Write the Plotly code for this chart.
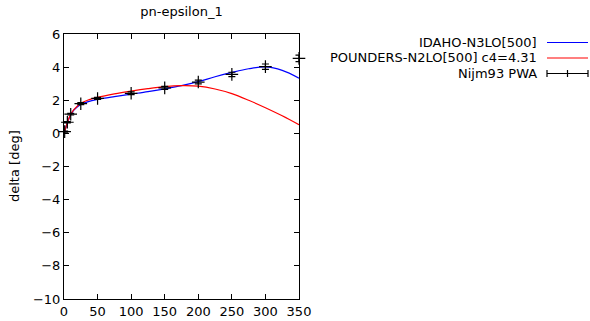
import plotly.graph_objects as go

# Nijm93 PWA data
pwa_e = [1, 5, 10, 25, 50, 100, 150, 200, 250, 300, 350]
pwa_delta = [0.105, 0.672, 1.159, 1.793, 2.109, 2.420, 2.750, 3.10, 3.56, 4.03, 4.53]
pwa_err = [0.03, 0.04, 0.05, 0.06, 0.06, 0.08, 0.09, 0.11, 0.13, 0.16, 0.2]

# model curves
curve_e = [0, 1, 2, 5, 10, 15, 25, 35, 50, 75, 100, 125, 150, 175, 200, 225, 250, 275, 300, 325, 350]
idaho = [0.0, 0.12, 0.25, 0.64, 1.12, 1.42, 1.74, 1.90, 2.05, 2.22, 2.37, 2.52, 2.69, 2.88, 3.12, 3.42, 3.68, 3.90, 4.01, 3.80, 3.33]
pounders = [0.0, 0.12, 0.25, 0.65, 1.15, 1.45, 1.82, 2.00, 2.17, 2.38, 2.55, 2.70, 2.82, 2.88, 2.85, 2.68, 2.40, 2.00, 1.55, 1.06, 0.52]

names = ["IDAHO-N3LO[500]", "POUNDERS-N2LO[500] c4=4.31", "Nijm93 PWA"]

W, H = 590, 321
L, R, T, B = 64, 299, 34, 299
FONT = "DejaVu Sans"
FS = 13

fig = go.Figure()
fig.add_trace(go.Scatter(x=curve_e, y=idaho, mode="lines", line=dict(color="#0000ff", width=1.2, shape="spline"), name=names[0], showlegend=False))
fig.add_trace(go.Scatter(x=curve_e, y=pounders, mode="lines", line=dict(color="#ff0000", width=1.2, shape="spline"), name=names[1], showlegend=False))
fig.add_trace(go.Scatter(x=pwa_e, y=pwa_delta, mode="markers",
                         marker=dict(symbol="cross-thin", size=9, line=dict(color="black", width=1.2)),
                         error_y=dict(type="data", array=pwa_err, color="black", thickness=1.2, width=3.5),
                         name=names[2], showlegend=False, cliponaxis=False))

axis_common = dict(showline=True, linecolor="black", linewidth=1, mirror="ticks", ticks="inside",
                   ticklen=5, tickcolor="black", showgrid=False, zeroline=False, automargin=False,
                   tickfont=dict(family=FONT, size=FS, color="black"))

fig.update_layout(
    width=W, height=H,
    margin=dict(l=L, r=W - R, t=T, b=H - B, autoexpand=False),
    plot_bgcolor="white", paper_bgcolor="white",
    title=dict(text="pn-epsilon_1", x=0.5, xref="paper", y=1 - 11 / H, yanchor="middle",
               font=dict(family=FONT, size=FS, color="black")),
    xaxis=dict(range=[0, 350], dtick=50, tick0=0, **axis_common),
    yaxis=dict(range=[-10, 6], dtick=2, tick0=0, **axis_common),
    showlegend=False,
)

# pixel -> paper (plot-area) coordinates
def px(x):
    return (x - L) / (R - L)

def py(y):
    return (B - y) / (B - T)

# y-axis title
fig.add_annotation(x=px(14), y=py(166), xref="paper", yref="paper", text="delta [deg]",
                   showarrow=False, textangle=-90, xanchor="center", yanchor="middle",
                   font=dict(family=FONT, size=FS, color="black"))

# gnuplot-style legend: text right-aligned, sample to the right
legend_y = [42.5, 58, 73.5]
text_right = 539
s0, s1 = 547, 588
colors = ["#0000ff", "#ff0000"]
for i, nm in enumerate(names):
    fig.add_annotation(x=px(text_right), y=py(legend_y[i]), xref="paper", yref="paper",
                       text=nm, showarrow=False, xanchor="right", yanchor="middle",
                       font=dict(family=FONT, size=FS, color="black"))
for i in range(2):
    fig.add_shape(type="line", xref="paper", yref="paper", x0=px(s0), x1=px(s1),
                  y0=py(legend_y[i]), y1=py(legend_y[i]), line=dict(color=colors[i], width=1.2))
yl = legend_y[2]
fig.add_shape(type="line", xref="paper", yref="paper", x0=px(s0), x1=px(s1), y0=py(yl), y1=py(yl), line=dict(color="black", width=1.2))
for xx in (s0, s1, (s0 + s1) / 2):
    fig.add_shape(type="line", xref="paper", yref="paper", x0=px(xx), x1=px(xx), y0=py(yl - 3.5), y1=py(yl + 3.5), line=dict(color="black", width=1.2))

fig.write_html("out.html", config={"displayModeBar": False},
               post_script="document.body.style.margin='0px';")
